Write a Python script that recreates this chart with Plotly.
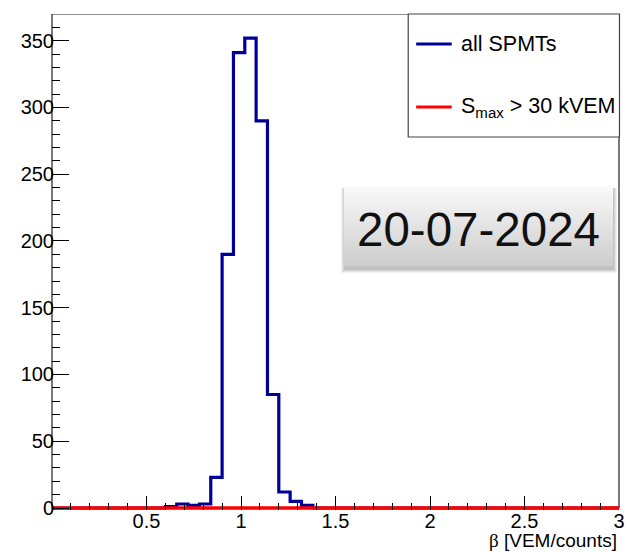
import plotly.graph_objects as go

# ---- data ----
bin_left_edges = [0.0, 0.60, 0.66, 0.72, 0.78, 0.84, 0.90, 0.96, 1.02, 1.08,
                  1.14, 1.20, 1.26, 1.32, 1.38, 3.0]
counts_all = [0, 1, 3, 2, 3, 23, 190, 341, 352, 290, 85, 12, 5, 2, 0, 0]
smax_edges = [0.0, 3.0]
counts_smax = [0, 0]
x_tick_vals = [0.5, 1, 1.5, 2, 2.5, 3]
y_tick_vals = [0, 50, 100, 150, 200, 250, 300, 350]
name_all = "all SPMTs"
name_smax = "S<sub>max</sub> &gt; 30 kVEM"
date_label = "20-07-2024"
x_title = "<span style='font-family:Liberation Serif'>β</span> [VEM/counts]"

W, H = 631, 552
ML, MR, MT, MB = 52, 6, 14, 42
PW, PH = W - ML - MR, H - MT - MB
Y_LO, Y_HI = -1.5, 370
FONT = "Liberation Sans, Arial, Helvetica, sans-serif"
BLUE = "#000099"
RED = "#ff0000"


def px(x):
    return (x - ML) / PW


def py(y):
    return (H - MB - y) / PH


fig = go.Figure()
fig.add_trace(go.Scatter(x=bin_left_edges, y=counts_all, mode="lines",
                         line=dict(shape="hv", color=BLUE, width=3.2),
                         name=name_all, showlegend=False))
fig.add_trace(go.Scatter(x=smax_edges, y=counts_smax, mode="lines",
                         line=dict(shape="hv", color=RED, width=3.6),
                         name=name_smax, showlegend=False))

shapes = []
annotations = []

# plot frame (drawn below traces so the red zero line covers the bottom edge)
shapes.append(dict(type="rect", xref="paper", yref="y", x0=0, x1=1, y0=0, y1=Y_HI,
                   line=dict(color="#222222", width=1.2), fillcolor="rgba(0,0,0,0)",
                   layer="below"))

# legend box (manual, ROOT-style)
lx0, lx1, ly0, ly1 = 412, 625.5, 14, 137
shapes.append(dict(type="rect", xref="paper", yref="paper",
                   x0=px(lx0), x1=px(lx1), y0=py(ly1), y1=py(ly0),
                   line=dict(color="#444444", width=1.2), fillcolor="white", layer="above"))
for yy, col, txt in [(44, BLUE, name_all), (107, RED, name_smax)]:
    shapes.append(dict(type="line", xref="paper", yref="paper",
                       x0=px(420), x1=px(456), y0=py(yy), y1=py(yy),
                       line=dict(color=col, width=3), layer="above"))
    annotations.append(dict(xref="paper", yref="paper", x=px(463), y=py(yy),
                            xanchor="left", yanchor="middle", text=txt, showarrow=False,
                            font=dict(family=FONT, size=21.5, color="black")))

# date box with shadow and vertical gradient
bx0, bx1, by0, by1 = 347, 619, 186, 266
for i, op in enumerate([0.05, 0.06, 0.07, 0.09]):
    g = 4 - i
    shapes.append(dict(type="rect", xref="paper", yref="paper",
                       x0=px(bx0 - g + 1), x1=px(bx1 + g), y0=py(by1 + 3 + g), y1=py(by0 + 2),
                       line=dict(width=0), fillcolor=f"rgba(0,0,0,{op})", layer="above"))
n = 40
top_c, bot_c = 249, 205
for i in range(n):
    t = i / (n - 1)
    c = int(round(top_c + (bot_c - top_c) * t))
    ya = by0 + (by1 - by0) * i / n
    yb = by0 + (by1 - by0) * (i + 1) / n
    shapes.append(dict(type="rect", xref="paper", yref="paper",
                       x0=px(bx0), x1=px(bx1), y0=py(yb + 0.3), y1=py(ya),
                       line=dict(width=0), fillcolor=f"rgb({c},{c},{c})", layer="above"))
annotations.append(dict(xref="paper", yref="paper", x=px(483), y=py(230),
                        xanchor="center", yanchor="middle", text=date_label, showarrow=False,
                        font=dict(family=FONT, size=47.5, color="#111111")))

# x axis title (ROOT style, right aligned)
annotations.append(dict(xref="paper", yref="paper", x=1.0, y=py(540),
                        xanchor="right", yanchor="middle", text=x_title, showarrow=False,
                        font=dict(family=FONT, size=19, color="black")))

fig.update_layout(
    width=W, height=H,
    margin=dict(l=ML, r=MR, t=MT, b=MB),
    paper_bgcolor="white", plot_bgcolor="white",
    font=dict(family=FONT, size=20, color="black"),
    showlegend=False,
    shapes=shapes, annotations=annotations,
)
fig.update_xaxes(range=[0, 3], tickmode="array", tickvals=x_tick_vals,
                 ticks="inside", ticklen=14, tickwidth=1, tickcolor="black",
                 minor=dict(tickmode="linear", tick0=0, dtick=0.1, ticks="inside",
                            ticklen=7, tickcolor="black", showgrid=False),
                 showgrid=False, zeroline=False, showline=False,
                 tickfont=dict(family=FONT, size=20), ticklabelstandoff=-3)
fig.update_yaxes(range=[Y_LO, Y_HI], tickmode="array", tickvals=y_tick_vals,
                 ticks="inside", ticklen=17, tickwidth=1, tickcolor="black",
                 minor=dict(tickmode="linear", tick0=0, dtick=10, ticks="inside",
                            ticklen=8, tickcolor="black", showgrid=False),
                 showgrid=False, zeroline=False, showline=False,
                 tickfont=dict(family=FONT, size=20), ticklabelstandoff=-3)

fig.write_html("out.html")
